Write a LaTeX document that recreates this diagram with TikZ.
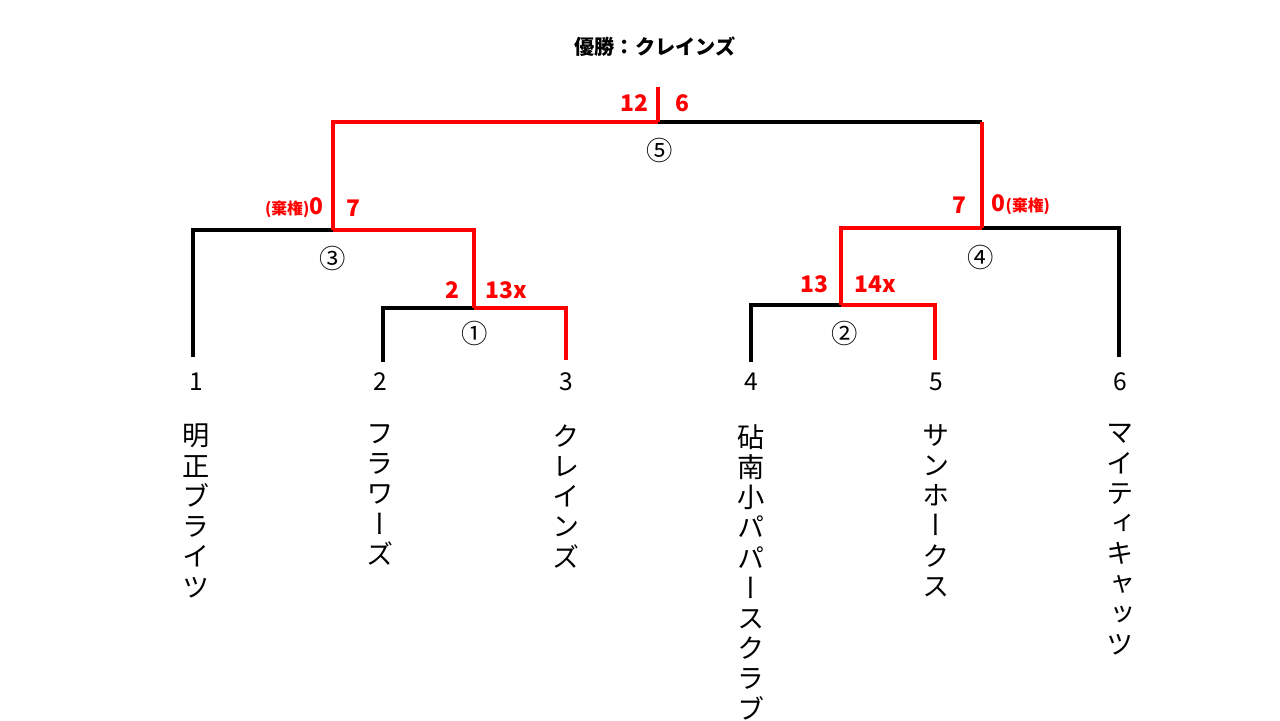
\documentclass[tikz,border=0pt]{standalone}
\usepackage{fontspec}
\setmainfont{Noto Sans CJK JP}
\newfontfamily\tatefont[RawFeature=+vert]{Noto Sans CJK JP}
\usepackage{xcolor}
\usepackage{tikz}
\usetikzlibrary{positioning}

\newcommand{\kikenmark}{{\fontsize{9}{10}\selectfont(棄権)}}

\begin{document}
\begin{tikzpicture}[
  x=0.02cm, y=-0.02cm,
  line width=2pt, line join=miter,
  lose/.style={draw=black},
  win/.style={draw=red},
  score/.style={text=red, inner sep=0pt,
                font=\bfseries\fontsize{13}{14}\selectfont},
  round/.style={inner sep=0pt, font=\fontsize{15}{16}\selectfont},
  num/.style={inner sep=0pt, font=\fontsize{14}{15}\selectfont},
  team/.style={inner sep=0pt, align=center, anchor=north,
               font=\tatefont\fontsize{15.5}{17.2}\selectfont}
]
\useasboundingbox (0,0) rectangle (1280,720);

\node[font=\bfseries\fontsize{11.5}{12}\selectfont] (title) at (655,47) {優勝：クレインズ};

% team numbers and names
\node[num] (n1) at (196,382) {1};
\node[num] (n2) at (380,382) {2};
\node[num] (n3) at (566,382) {3};
\node[num] (n4) at (751,382) {4};
\node[num] (n5) at (936,382) {5};
\node[num] (n6) at (1120,382) {6};

\node[team, below=6mm of n1] (team1) {明\\正\\ブ\\ラ\\イ\\ツ};
\node[team, below=6mm of n2] (team2) {フ\\ラ\\ワ\\ー\\ズ};
\node[team, below=6mm of n3] (team3) {ク\\レ\\イ\\ン\\ズ};
\node[team, below=6mm of n4] (team4) {砧\\南\\小\\パ\\パ\\ー\\ス\\ク\\ラ\\ブ};
\node[team, below=6mm of n5] (team5) {サ\\ン\\ホ\\ー\\ク\\ス};
\node[team, below=6mm of n6] (team6) {マ\\イ\\テ\\ィ\\キ\\ャ\\ッ\\ツ};

% bracket points
\coordinate (l1) at (193,357);
\coordinate (l2) at (383,362);
\coordinate (l3) at (566,360);
\coordinate (l4) at (751,362);
\coordinate (l5) at (935,360);
\coordinate (l6) at (1119,357);
\coordinate (m1) at (474,308);
\coordinate (m2) at (841,305);
\coordinate (m3) at (333,230);
\coordinate (m4) at (982,228);
\coordinate (m5) at (658,122);
\coordinate (k4) at (982,122);
\coordinate (top) at (658,87);

\draw[lose] (l2) |- (m1);
\draw[lose] (l1) |- (m3);
\draw[lose] (l4) |- (m2);
\draw[lose] (l6) |- (m4);
\draw[lose] (k4) -- (m5);
\draw[win] (m1) -| (l3);
\draw[win] (m1) |- (m3);
\draw[win] (m3) |- (m5);
\draw[win] (m5) -- (top);
\draw[win] (m2) -| (l5);
\draw[win] (m2) |- (m4);
\draw[win] (m4) -- (k4);

% round numbers
\node[round] (r1) at (475,333) {①};
\node[round] (r2) at (845,333) {②};
\node[round] (r3) at (333,258) {③};
\node[round] (r4) at (981,257) {④};
\node[round] (r5) at (660,150) {⑤};

% scores
\node[score, anchor=east] (s1l) at (461,290) {2};
\node[score, anchor=west] (s1r) at (484,290) {13x};
\node[score, anchor=east] (s2l) at (830,284) {13};
\node[score, anchor=west] (s2r) at (853,284) {14x};
\node[score, anchor=east] (s3l) at (325,208) {\kikenmark0};
\node[score, anchor=west] (s3r) at (345,208) {7};
\node[score, anchor=east] (s4l) at (968,205) {7};
\node[score, anchor=west] (s4r) at (990,205) {0\kikenmark};
\node[score, anchor=east] (s5l) at (650,103) {12};
\node[score, anchor=west] (s5r) at (674,103) {6};
\end{tikzpicture}
\end{document}
